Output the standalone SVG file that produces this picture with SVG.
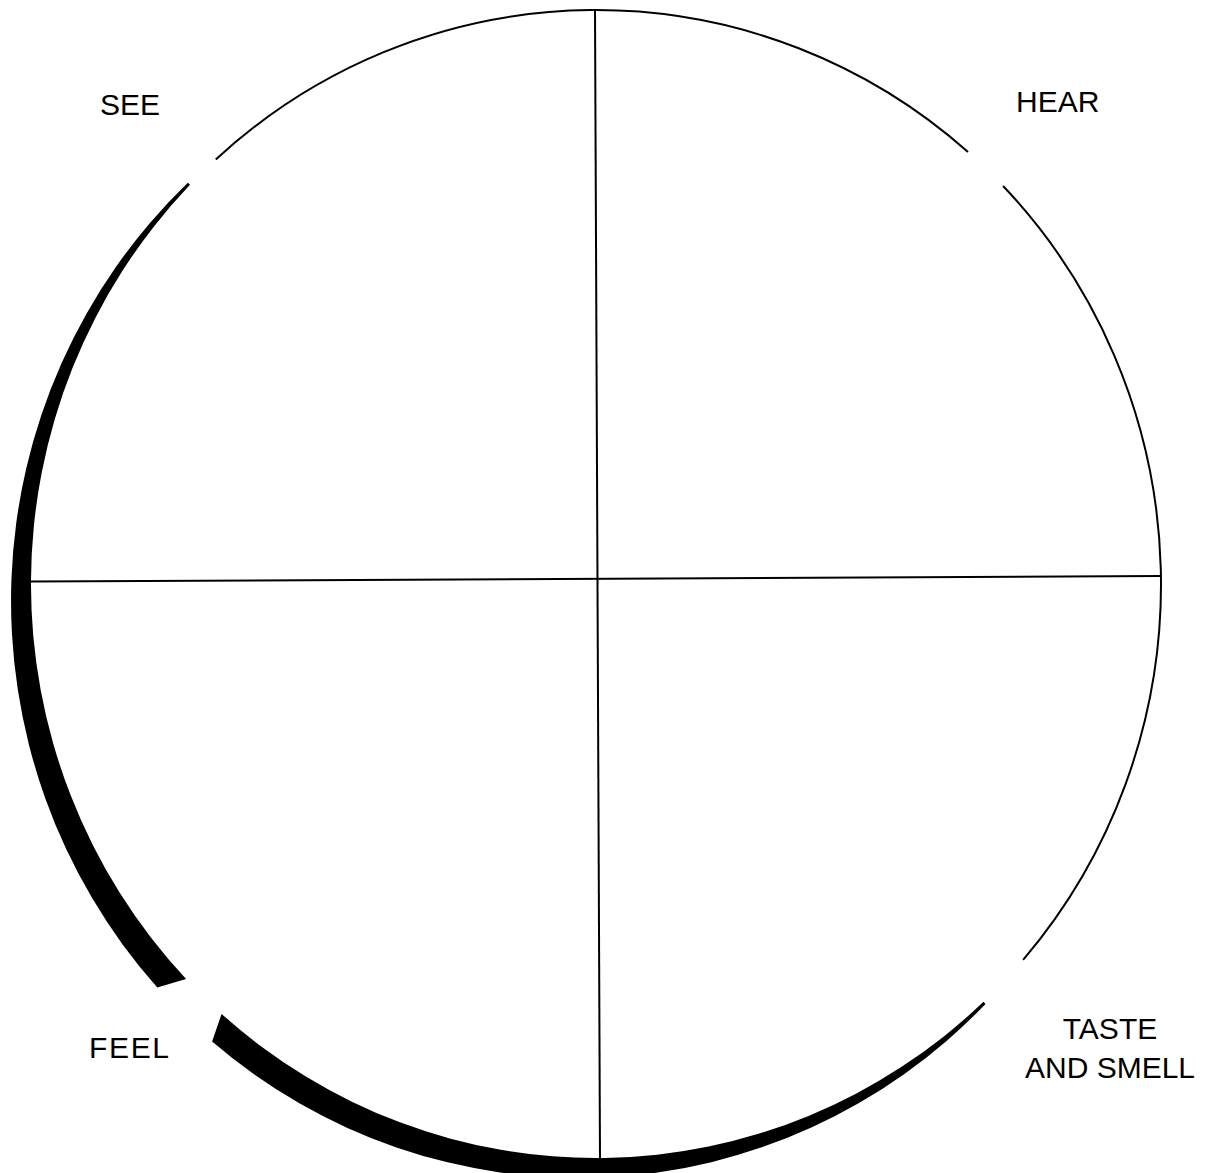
<svg xmlns="http://www.w3.org/2000/svg" width="1206" height="1173" viewBox="0 0 1206 1173">
<style>
.thin{fill:none;stroke:#000;stroke-width:2}
.band{fill:#000;stroke:none}
.axis{stroke:#000;stroke-width:2}
.lbl{font-family:"Liberation Sans",Arial,sans-serif;font-size:30px;fill:#000}
</style>
<rect width="1206" height="1173" fill="#fff"/>
<g id="wheel">
  <path class="thin" d="M215.8 159.5 A565 574 0 0 1 968 152"/>
  <path class="thin" d="M1003.1 186 A565 574 0 0 1 1023.1 959.8"/>
  <path class="band" d="M190 184.8 A565 574 0 0 0 186.1 979.1 L157.3 987.5 A568 577 0 0 1 187.8 182.7 Z"/>
  <path class="band" d="M221.6 1013.9 A565 574 0 0 0 983.5 1001.8 L985.5 1004 A568 577 0 0 1 212.1 1041.5 Z"/>
</g>
<g id="connectors">
  <line class="axis" x1="31" y1="581.5" x2="1160" y2="576"/>
  <line class="axis" x1="595" y1="10" x2="600" y2="1158"/>
</g>
<g id="see"><text class="lbl" x="100" y="115">SEE</text></g>
<g id="hear"><text class="lbl" x="1016" y="111.5">HEAR</text></g>
<g id="feel"><text class="lbl" x="89" y="1057.5" textLength="80">FEEL</text></g>
<g id="taste"><text class="lbl" text-anchor="middle"><tspan x="1110" y="1039">TASTE</tspan><tspan x="1110" y="1077.5">AND SMELL</tspan></text></g>
</svg>
